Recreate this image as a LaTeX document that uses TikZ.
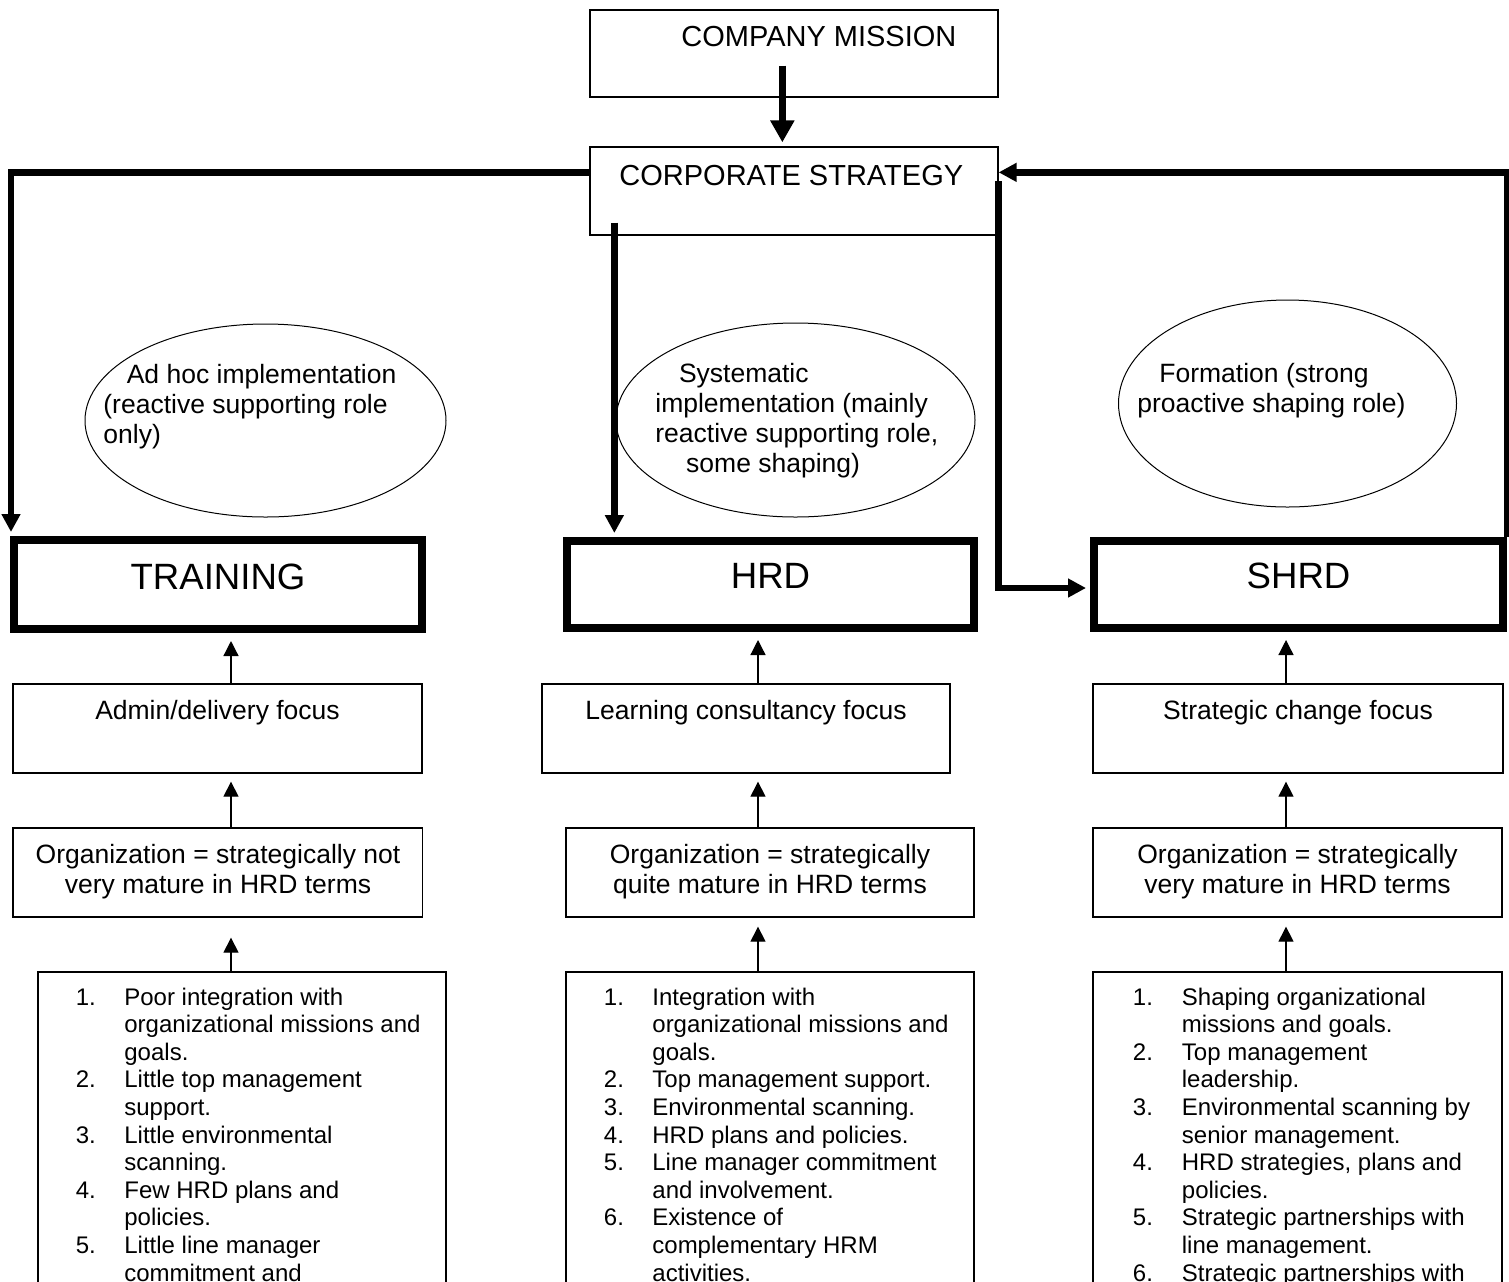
\documentclass[tikz,border=0pt]{standalone}
\usepackage{fontspec}
\setmainfont{Liberation Sans}
\usetikzlibrary{arrows.meta,shapes.geometric,fit,calc}

\begin{document}
\begin{tikzpicture}[x=0.5pt,y=-0.5pt,
  thinbox/.style={draw, line width=0.65pt, inner sep=0pt},
  bigbox/.style={draw, line width=4pt, inner sep=0pt},
  oval/.style={draw, ellipse, line width=0.5pt, inner sep=0pt},
  head/.style={font=\fontsize{14.5}{16.7}\selectfont, inner sep=0pt, anchor=base west},
  big/.style={font=\fontsize{18.3}{21}\selectfont, inner sep=0pt, anchor=base},
  mid/.style={font=\fontsize{13.25}{15}\selectfont, inner sep=0pt},
  items/.style={font=\fontsize{12}{13.8}\selectfont, inner sep=0pt, anchor=base west},
  link/.style={line width=3.3pt, line join=miter, -{Triangle[width=9pt,length=9pt]}},
  up/.style={line width=0.65pt, -{Triangle[width=7.5pt,length=7.5pt]}},
]
\useasboundingbox (0,0) rectangle (1509,1281);
\clip (0,0) rectangle (1509,1281);
\fill[white] (0,0) rectangle (1509,1281);

% ---- top: mission and strategy
\node[thinbox, fit={(590,10) (998,97)}] (mission) {};
\node[head] (missiontxt) at (681,46.7) {COMPANY MISSION};
\node[thinbox, fit={(590,147) (998,235)}] (corp) {};
\node[head] (corptxt) at (619,185) {CORPORATE STRATEGY};

\coordinate (mstart) at ($(mission.south west)+(193,-32)$);
\draw[line width=3.5pt, -{Triangle[width=11.5pt,length=11pt]}, shorten >=2pt]
  (mstart) -- (mstart |- corp.north);

% ---- the three approaches
\node[bigbox, fit={(14,540) (422,629)}] (train) {};
\node[big] (traintxt) at (218,589) {TRAINING};
\node[bigbox, fit={(567,541) (974,628)}] (hrd) {};
\node[big] (hrdtxt) at (770.5,588.5) {HRD};
\node[bigbox, fit={(1094,541) (1503,628)}] (shrd) {};
\node[big] (shrdtxt) at (1298.5,588.5) {SHRD};

% ---- roles
\node[oval, minimum width=180.5pt, minimum height=96.5pt] (role1) at (265.5,420.5) {};
\node[mid, anchor=base west] (role1txt) at (103,383)
  {\begin{tabular}[t]{@{}l@{}}\hspace*{11.7pt}Ad hoc implementation\\(reactive supporting role\\only)\end{tabular}};
\node[oval, minimum width=179.5pt, minimum height=97pt] (role2) at (795.5,420) {};
\node[mid, anchor=base west] (role2txt) at (655,382.5)
  {\begin{tabular}[t]{@{}l@{}}\hspace*{11.8pt}Systematic\\implementation (mainly\\reactive supporting role,\\\hspace*{15.4pt}some shaping)\end{tabular}};
\node[oval, minimum width=169pt, minimum height=103.5pt] (role3) at (1287.5,403.5) {};
\node[mid, anchor=base west] (role3txt) at (1137,382.5)
  {\begin{tabular}[t]{@{}l@{}}\hspace*{11pt}Formation (strong\\proactive shaping role)\end{tabular}};

% ---- strategy links
\draw[link, shorten >=2pt] ($(corp.north west)+(0,26)$) -| ([xshift=0.5pt]train.north west);
\coordinate (hstart) at ($(corp.south west)+(25,-13)$);
\draw[link, shorten >=2pt] (hstart) -- (hstart |- hrd.north);
\draw[link] (shrd.north east) |- ($(corp.north east)+(0,26)$);
\draw[link, shorten >=2pt] ($(corp.north east)+(0,35)$) |- ($(shrd.west)+(0,3.5)$);

% ---- focus boxes
\node[thinbox, fit={(13,684) (422,773)}] (focus1) {};
\node[mid, anchor=base] (focus1txt) at (217.5,719.7) {Admin/delivery focus};
\node[thinbox, fit={(542,684) (950,773)}] (focus2) {};
\node[mid, anchor=base] (focus2txt) at (746,719.7) {Learning consultancy focus};
\node[thinbox, fit={(1093,684) (1503,773)}] (focus3) {};
\node[mid, anchor=base] (focus3txt) at (1298,719.7) {Strategic change focus};

% ---- maturity boxes
\node[thinbox, fit={(13,828) (422.5,917)}] (org1) {};
\node[mid, anchor=base] (org1txt) at (218,863.3)
  {\begin{tabular}[t]{@{}c@{}}Organization = strategically not\\very mature in HRD terms\end{tabular}};
\node[thinbox, fit={(566,828) (974,917)}] (org2) {};
\node[mid, anchor=base] (org2txt) at (770,863.3)
  {\begin{tabular}[t]{@{}c@{}}Organization = strategically\\quite mature in HRD terms\end{tabular}};
\node[thinbox, fit={(1093,828) (1502,917)}] (org3) {};
\node[mid, anchor=base] (org3txt) at (1297.5,863.3)
  {\begin{tabular}[t]{@{}c@{}}Organization = strategically\\very mature in HRD terms\end{tabular}};

% ---- factor lists (running on below the frame)
\node[thinbox, fit={(38,972) (446,1400)}] (list1) {};
\node[items] (list1txt) at (75.5,1005)
  {\begin{tabular}[t]{@{}p{24.25pt}@{}l@{}}
  1. & Poor integration with\\
     & organizational missions and\\
     & goals.\\
  2. & Little top management\\
     & support.\\
  3. & Little environmental\\
     & scanning.\\
  4. & Few HRD plans and\\
     & policies.\\
  5. & Little line manager\\
     & commitment and
  \end{tabular}};
\node[thinbox, fit={(566,972) (974,1400)}] (list2) {};
\node[items] (list2txt) at (603.5,1005)
  {\begin{tabular}[t]{@{}p{24.25pt}@{}l@{}}
  1. & Integration with\\
     & organizational missions and\\
     & goals.\\
  2. & Top management support.\\
  3. & Environmental scanning.\\
  4. & HRD plans and policies.\\
  5. & Line manager commitment\\
     & and involvement.\\
  6. & Existence of\\
     & complementary HRM\\
     & activities.
  \end{tabular}};
\node[thinbox, fit={(1093,972) (1502,1400)}] (list3) {};
\node[items] (list3txt) at (1132.5,1005)
  {\begin{tabular}[t]{@{}p{24.5pt}@{}l@{}}
  1. & Shaping organizational\\
     & missions and goals.\\
  2. & Top management\\
     & leadership.\\
  3. & Environmental scanning by\\
     & senior management.\\
  4. & HRD strategies, plans and\\
     & policies.\\
  5. & Strategic partnerships with\\
     & line management.\\
  6. & Strategic partnerships with
  \end{tabular}};

% ---- upward links in each column
\coordinate (c1) at (231,0);
\coordinate (c2) at (758,0);
\coordinate (c3) at (1286,0);
\draw[up, shorten >=4pt] (c1 |- focus1.north) -- (c1 |- train.south);
\draw[up, shorten >=4pt] (c2 |- focus2.north) -- (c2 |- hrd.south);
\draw[up, shorten >=4pt] (c3 |- focus3.north) -- (c3 |- shrd.south);
\draw[up, shorten >=4pt] (c1 |- org1.north) -- (c1 |- focus1.south);
\draw[up, shorten >=4pt] (c2 |- org2.north) -- (c2 |- focus2.south);
\draw[up, shorten >=4pt] (c3 |- org3.north) -- (c3 |- focus3.south);
\draw[up, shorten >=10pt] (c1 |- list1.north) -- (c1 |- org1.south);
\draw[up, shorten >=4.5pt] (c2 |- list2.north) -- (c2 |- org2.south);
\draw[up, shorten >=4.5pt] (c3 |- list3.north) -- (c3 |- org3.south);
\end{tikzpicture}
\end{document}
